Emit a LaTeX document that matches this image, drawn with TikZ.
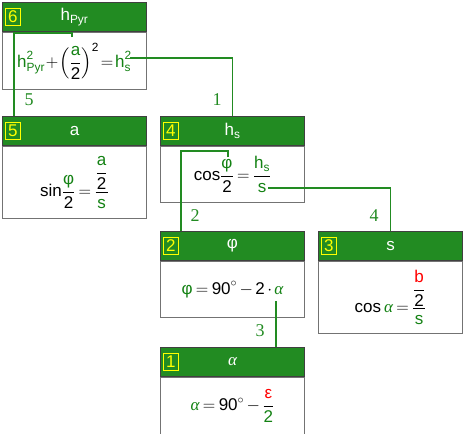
\documentclass[tikz,border=0pt]{standalone}
\usepackage{amsmath}
\usepackage{fontspec}
\setmainfont{Liberation Sans}
\newfontfamily\numfont{Liberation Serif}
\usetikzlibrary{positioning}

\definecolor{hdrgreen}{RGB}{34,139,34}
\definecolor{txtgreen}{RGB}{20,130,20}
\definecolor{badgeyel}{RGB}{255,255,0}
\newcommand{\gr}[1]{{\color{txtgreen}#1}}
\newcommand{\rd}[1]{{\color{red}#1}}
\newcommand{\tx}[1]{\text{#1}}
\newcommand{\alp}{{\numfont\itshape α}}
\medmuskip=2.5mu
\thickmuskip=3.5mu

\begin{document}
\begin{tikzpicture}[x=1pt, y=-1pt,
  every node/.style={font=\fontsize{17}{20}\selectfont},
  hdr/.style={draw=black!75, fill=hdrgreen, text=white, minimum width=144pt,
    minimum height=29pt, anchor=north west, inner sep=0pt, line width=1pt},
  body/.style={draw=black!55, fill=white, minimum width=144pt, anchor=north,
    inner sep=0pt, line width=1pt},
  badge/.style={draw=badgeyel, text=badgeyel, minimum width=15pt,
    minimum height=17pt, inner sep=0pt, line width=0.8pt},
  link/.style={draw=hdrgreen, line width=1.6pt},
  lbl/.style={text=hdrgreen, font=\numfont\fontsize{18}{20}\selectfont}]

  \useasboundingbox (0,0) rectangle (464,434);

  %% Box 6: pyramid height
  \node[hdr] (h6) at (2,2) {$\tx{h}_{\tx{Pyr}}$};
  \node[badge, right=3pt of h6.west] (k6) {6};
  \node[body, minimum height=57pt] (b6) at (h6.south)
    {$\medmuskip=1mu\thickmuskip=2mu
      \gr{\tx{h}^{\tx{2}}_{\tx{Pyr}}}+\left(\dfrac{\gr{\tx{a}}}{\tx{2}}\right)^{\tx{2}}=\gr{\tx{h}^{\tx{2}}_{\tx{s}}}$};

  %% Box 5: base edge
  \node[hdr] (h5) at (2,116) {a};
  \node[badge, right=3pt of h5.west] (k5) {5};
  \node[body, minimum height=72pt] (b5) at (h5.south)
    {$\tx{sin}\dfrac{\gr{\tx{φ}}}{\tx{2}}=\dfrac{\dfrac{\gr{\tx{a}}}{\tx{2}}}{\gr{\tx{s}}}$};

  %% Box 4: slant height
  \node[hdr] (h4) at (160,116) {$\tx{h}_{\tx{s}}$};
  \node[badge, right=3pt of h4.west] (k4) {4};
  \node[body, minimum height=56pt] (b4) at (h4.south)
    {$\tx{cos}\dfrac{\gr{\tx{φ}}}{\tx{2}}=\dfrac{\gr{\tx{h}_{\tx{s}}}}{\gr{\tx{s}}}$};

  %% Box 2: apex angle
  \node[hdr] (h2) at (160,231) {φ};
  \node[badge, right=3pt of h2.west] (k2) {2};
  \node[body, minimum height=56pt] (b2) at (h2.south)
    {$\gr{\tx{φ}}=\tx{90}^{\circ}-\tx{2}\cdot\gr{\tx{\alp}}$};

  %% Box 3: side edge
  \node[hdr] (h3) at (318,231) {s};
  \node[badge, right=3pt of h3.west] (k3) {3};
  \node[body, minimum height=72pt] (b3) at (h3.south)
    {$\tx{cos}\,\gr{\tx{\alp}}=\dfrac{\dfrac{\rd{\tx{b}}}{\tx{2}}}{\gr{\tx{s}}}$};

  %% Box 1: base angle
  \node[hdr] (h1) at (160,347) {\alp};
  \node[badge, right=3pt of h1.west] (k1) {1};
  \node[body, minimum height=57pt] (b1) at (h1.south)
    {$\gr{\tx{\alp}}=\tx{90}^{\circ}-\dfrac{\rd{\tx{ε}}}{\gr{\tx{2}}}$};

  % where the links leave the formulas
  \coordinate (a6) at (72,37);
  \coordinate (hs6) at (130,58);
  \coordinate (phi4) at (228,157);
  \coordinate (s4) at (268,188);
  \coordinate (al2) at (276,301);
  \coordinate (in5) at ([xshift=12pt]h5.north west);
  \coordinate (in2) at ([xshift=21pt]h2.north west);

  % links
  \draw[link] (hs6) -| (h4.north);
  \draw[link] (a6) -- ++(0,-4) -| (in5);
  \draw[link] (phi4) -- ++(0,-6) -| (in2);
  \draw[link] (s4) -| (h3.north);
  \draw[link] (al2) -- (al2 |- h1.north);

  % step numbers
  \node[lbl] (n1) at (217,100) {1};
  \node[lbl] (n2) at (195,216) {2};
  \node[lbl] (n3) at (260,331) {3};
  \node[lbl] (n4) at (374,216) {4};
  \node[lbl] (n5) at (29,100) {5};
\end{tikzpicture}
\end{document}
